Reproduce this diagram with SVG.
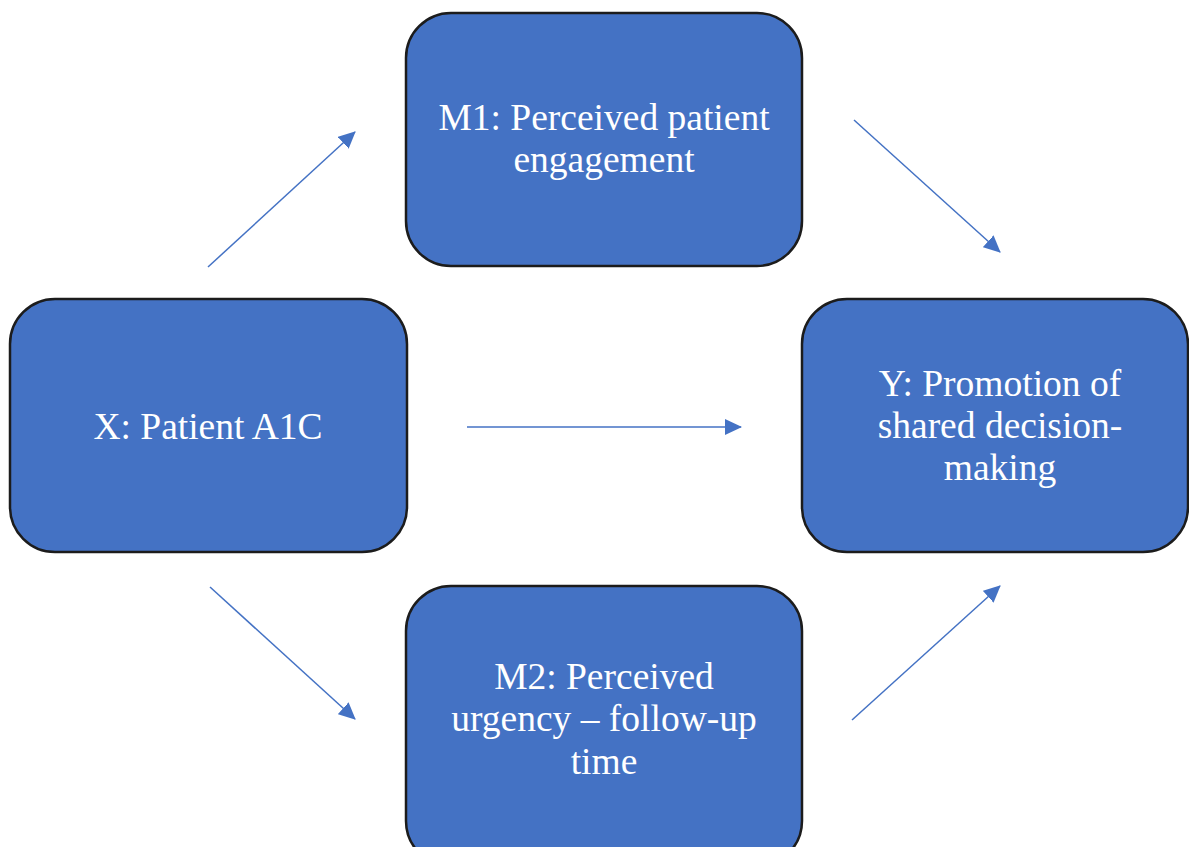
<svg xmlns="http://www.w3.org/2000/svg" width="1189" height="847" viewBox="0 0 1189 847">
<defs>
<style>
.box{fill:#4472C4;stroke:#1c1c1c;stroke-width:2.5}
.lbl{fill:#ffffff;font-family:"Liberation Serif","Times New Roman",serif;font-size:37.5px;text-anchor:middle}
.edge{stroke:#4472C4;stroke-width:1.5;fill:none;marker-end:url(#ah)}
</style>
<marker id="ah" markerUnits="userSpaceOnUse" markerWidth="18" markerHeight="16" refX="16" refY="8" orient="auto">
<path d="M0,0 L17,8 L0,16 Z" fill="#4472C4"/>
</marker>
</defs>
<rect width="1189" height="847" fill="#ffffff"/>
<g id="connectors">
<line class="edge" x1="208" y1="267" x2="355" y2="132"/>
<line class="edge" x1="854" y1="120" x2="1000" y2="252"/>
<line class="edge" x1="467" y1="427" x2="741" y2="427"/>
<line class="edge" x1="210" y1="587" x2="355" y2="719"/>
<line class="edge" x1="852" y1="720" x2="1000" y2="586"/>
</g>
<g id="node-m1">
<rect class="box" x="406" y="13" width="396" height="253" rx="45" ry="45"/>
<text class="lbl" x="604" y="130">M1: Perceived patient</text>
<text class="lbl" x="604" y="172">engagement</text>
</g>
<g id="node-x">
<rect class="box" x="10" y="299" width="397" height="253" rx="45" ry="45"/>
<text class="lbl" x="208" y="439">X: Patient A1C</text>
</g>
<g id="node-y">
<rect class="box" x="802" y="299" width="386" height="253" rx="45" ry="45"/>
<text class="lbl" x="1000" y="396">Y: Promotion of</text>
<text class="lbl" x="1000" y="438">shared decision-</text>
<text class="lbl" x="1000" y="480">making</text>
</g>
<g id="node-m2">
<rect class="box" x="406" y="586" width="396" height="280" rx="45" ry="45"/>
<text class="lbl" x="604" y="689">M2: Perceived</text>
<text class="lbl" x="604" y="731">urgency – follow-up</text>
<text class="lbl" x="604" y="774">time</text>
</g>
</svg>
